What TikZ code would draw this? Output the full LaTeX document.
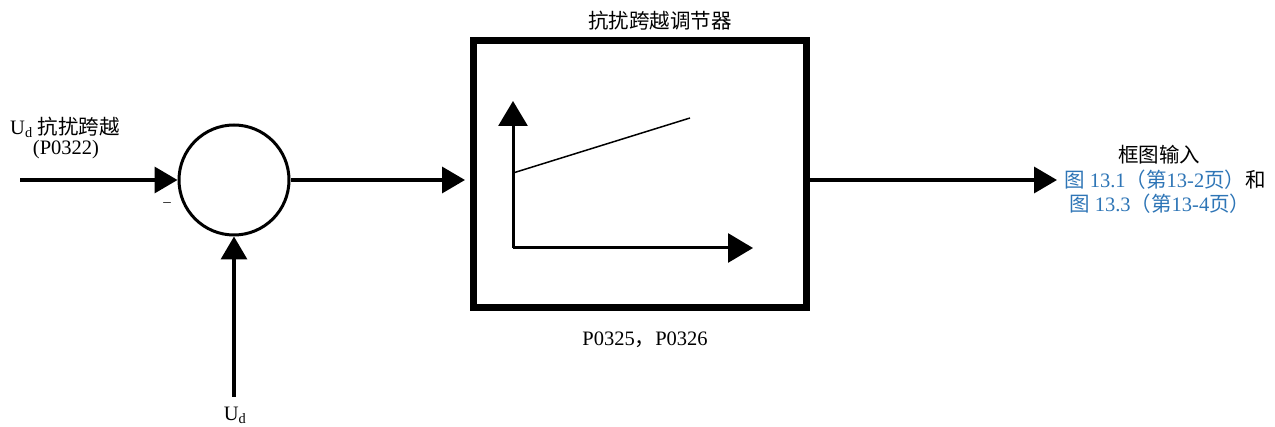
\documentclass[tikz,border=0pt]{standalone}
\usepackage{fontspec}
\setmainfont{Liberation Serif}
\newfontfamily\cjk{Noto Sans CJK SC}
\usetikzlibrary{arrows.meta}
\definecolor{linkblue}{RGB}{46,117,182}
\newcommand\zh[1]{{\cjk #1}}
\tikzset{
  sig/.style={line width=3.5pt,-{Triangle[length=23pt,width=26pt]}},
  axis/.style={line width=3pt,-{Triangle[length=25pt,width=29pt]}},
  lbl/.style={font=\fontsize{20.5}{24}\selectfont,inner sep=0pt},
}
\begin{document}
\begin{tikzpicture}[x=1pt,y=-1pt]
\useasboundingbox (0,0) rectangle (1275,427);
% Comparateur et bloc du régulateur
\node[circle,draw,line width=3pt,minimum size=110pt,inner sep=0pt] (sum) at (234,180) {};
\node[draw,line width=7pt,minimum width=333pt,minimum height=267pt,inner sep=0pt] (reg) at (640,174.5) {};
\coordinate (in) at (20,180);
\coordinate (udin) at (234,397);
\coordinate (out) at (1057,180);
% Signaux
\draw[sig] (in) -- (sum.west);
\draw[sig] (udin) -- (sum.south);
\draw[sig,shorten >=5pt] (sum.east) -- (sum.east -| reg.west);
\draw[sig] (sum.east -| reg.east) -- (out);
% Caractéristique dans le bloc
\coordinate (o) at (513,248);
\coordinate (ytip) at (513,101);
\coordinate (xtip) at (753,248);
\draw[axis] (o) -- (ytip);
\draw[axis] (o) -- (xtip);
\coordinate (k0) at (513,173);
\coordinate (k1) at (690,118);
\draw[line width=1.5pt] (k0) -- (k1);
% Textes
\node[lbl,anchor=west] (udlbl) at (10,127) {U\textsubscript{d} \zh{抗扰跨越}};
\node[lbl] (p0322) at (66,150) {(P0322)};
\node[lbl] (minus) at (167,205) {\fontsize{15}{15}\selectfont –};
\node[lbl] (udbot) at (235,415) {U\textsubscript{d}};
\node[lbl] (title) at (660,21) {\zh{抗扰跨越调节器}};
\node[lbl] (params) at (645,340) {P0325\zh{，}P0326};
\node[lbl,anchor=west] (outa) at (1118,155) {\zh{框图输入}};
\node[lbl,anchor=west] (outb) at (1064,180) {\color{linkblue}\zh{图}\ 13.1\zh{（第}13-2\zh{页）}\color{black}\zh{和}};
\node[lbl,anchor=west] (outc) at (1069,204) {\color{linkblue}\zh{图}\ 13.3\zh{（第}13-4\zh{页）}};
\end{tikzpicture}
\end{document}
